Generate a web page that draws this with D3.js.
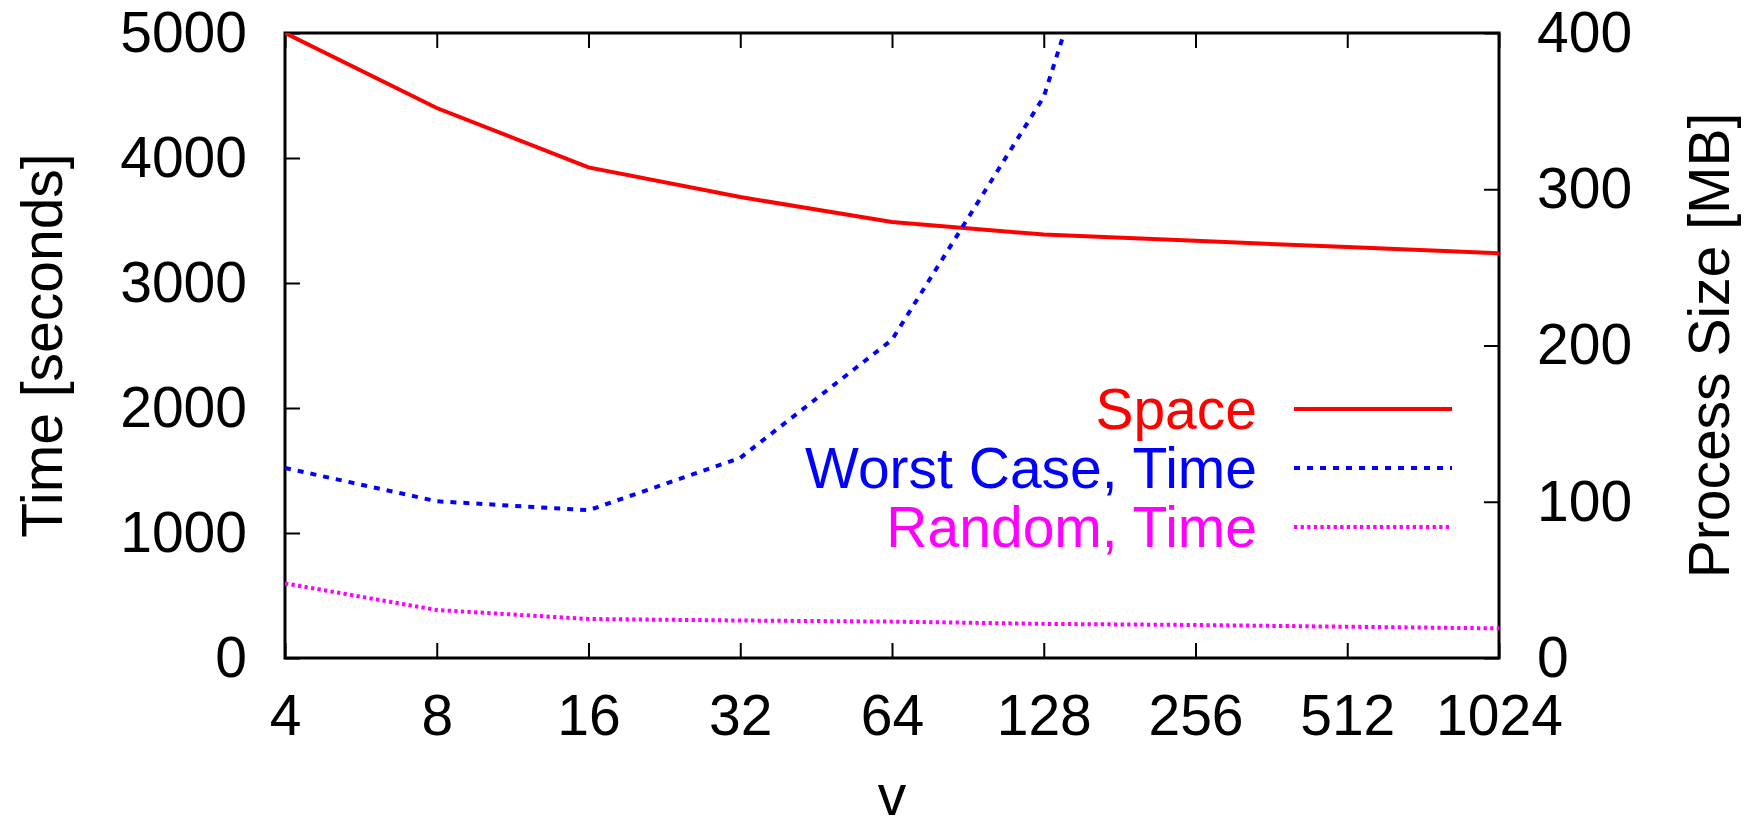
<!DOCTYPE html>
<html>
<head>
<meta charset="utf-8">
<script src="https://cdn.jsdelivr.net/npm/d3@7"></script>
<style>
  body { margin: 0; background: #fff; }
  svg text { font-family: "Liberation Sans", Arial, sans-serif; font-size: 57px; }
</style>
</head>
<body>
<div class="chart"></div>
<script>
// values
const vValues = [4, 8, 16, 32, 64, 128, 256, 512, 1024];
const spaceMB = [400, 352, 314, 295, 279, 271, 267, 263, 259];     // right axis
const worstTime = [1520, 1254, 1182, 1601, 2546, 4489, 8300];       // left axis, leaves the top
const randomTime = [597, 384, 312, 300, 291, 273, 264, 250, 237];   // left axis

const xTicks = [4, 8, 16, 32, 64, 128, 256, 512, 1024];
const yTicks = [0, 1000, 2000, 3000, 4000, 5000];
const y2Ticks = [0, 100, 200, 300, 400];

const width = 1747, height = 830;
const margin = { top: 33, right: 248, bottom: 172, left: 285 };
const chartWidth = width - margin.left - margin.right;
const chartHeight = height - margin.top - margin.bottom;

const svg = d3.select(".chart").append("svg")
  .attr("width", width)
  .attr("height", height);

const chart = svg.append("g")
  .attr("transform", `translate(${margin.left}, ${margin.top})`);

// scales
const xScale = d3.scaleLog().base(2).domain([4, 1024]).range([0, chartWidth]);
const yScale = d3.scaleLinear().domain([0, 5000]).range([chartHeight, 0]);
const y2Scale = d3.scaleLinear().domain([0, 400]).range([chartHeight, 0]);

// clip so the worst case line is cut at the top border
svg.append("defs").append("clipPath").attr("id", "plot-clip")
  .append("rect").attr("width", chartWidth).attr("height", chartHeight);

// axes, ticks pointing inward
const tickLen = 15;
const fmt = d3.format("d");
chart.append("g").attr("class", "axis x-axis")
  .attr("transform", `translate(0, ${chartHeight})`)
  .call(d3.axisBottom(xScale).tickValues(xTicks).tickFormat(fmt)
    .tickSizeInner(-tickLen).tickSizeOuter(0).tickPadding(37));

chart.append("g").attr("class", "axis x-axis-top")
  .call(d3.axisTop(xScale).tickValues(xTicks).tickFormat("")
    .tickSizeInner(-tickLen).tickSizeOuter(0));

chart.append("g").attr("class", "axis y-axis")
  .call(d3.axisLeft(yScale).tickValues(yTicks).tickFormat(fmt)
    .tickSizeInner(-tickLen).tickSizeOuter(0).tickPadding(38));

chart.append("g").attr("class", "axis y2-axis")
  .attr("transform", `translate(${chartWidth}, 0)`)
  .call(d3.axisRight(y2Scale).tickValues(y2Ticks).tickFormat(fmt)
    .tickSizeInner(-tickLen).tickSizeOuter(0).tickPadding(38));

chart.selectAll(".axis .domain").remove();
chart.selectAll(".axis text").attr("font-size", null).attr("font-family", null).attr("fill", "#000");
chart.selectAll(".axis line").attr("stroke", "#000").attr("stroke-width", 2);

// frame
chart.append("rect")
  .attr("width", chartWidth)
  .attr("height", chartHeight)
  .attr("fill", "none")
  .attr("stroke", "#000")
  .attr("stroke-width", 3);

// lines
const series = [
  { label: "Space", color: "#ff0000", dash: null, values: spaceMB, scale: y2Scale },
  { label: "Worst Case, Time", color: "#0000ff", dash: "6,7", values: worstTime, scale: yScale },
  { label: "Random, Time", color: "#ff00ff", dash: "3.3,3.3", values: randomTime, scale: yScale },
];

const lines = chart.append("g").attr("clip-path", "url(#plot-clip)");
series.forEach(s => {
  const line = d3.line()
    .x((d, i) => xScale(vValues[i]))
    .y(d => s.scale(d));
  lines.append("path")
    .datum(s.values)
    .attr("d", line)
    .attr("fill", "none")
    .attr("stroke", s.color)
    .attr("stroke-width", 4)
    .attr("stroke-dasharray", s.dash);
});

// legend
const legend = chart.append("g")
  .attr("transform", `translate(${1257 - margin.left}, ${409 - margin.top})`);
series.forEach((s, i) => {
  const row = legend.append("g").attr("transform", `translate(0, ${i * 59})`);
  row.append("text")
    .attr("text-anchor", "end")
    .attr("dy", "0.35em")
    .attr("fill", s.color)
    .text(s.label);
  row.append("line")
    .attr("x1", 37).attr("x2", 195)
    .attr("stroke", s.color)
    .attr("stroke-width", 4)
    .attr("stroke-dasharray", s.dash);
});

// axis titles
svg.append("text")
  .attr("transform", `translate(62, ${margin.top + chartHeight / 2}) rotate(-90)`)
  .attr("text-anchor", "middle")
  .text("Time [seconds]");

svg.append("text")
  .attr("transform", `translate(1729, ${margin.top + chartHeight / 2}) rotate(-90)`)
  .attr("text-anchor", "middle")
  .text("Process Size [MB]");

svg.append("text")
  .attr("x", margin.left + chartWidth / 2)
  .attr("y", 815)
  .attr("text-anchor", "middle")
  .text("v");
</script>
</body>
</html>
